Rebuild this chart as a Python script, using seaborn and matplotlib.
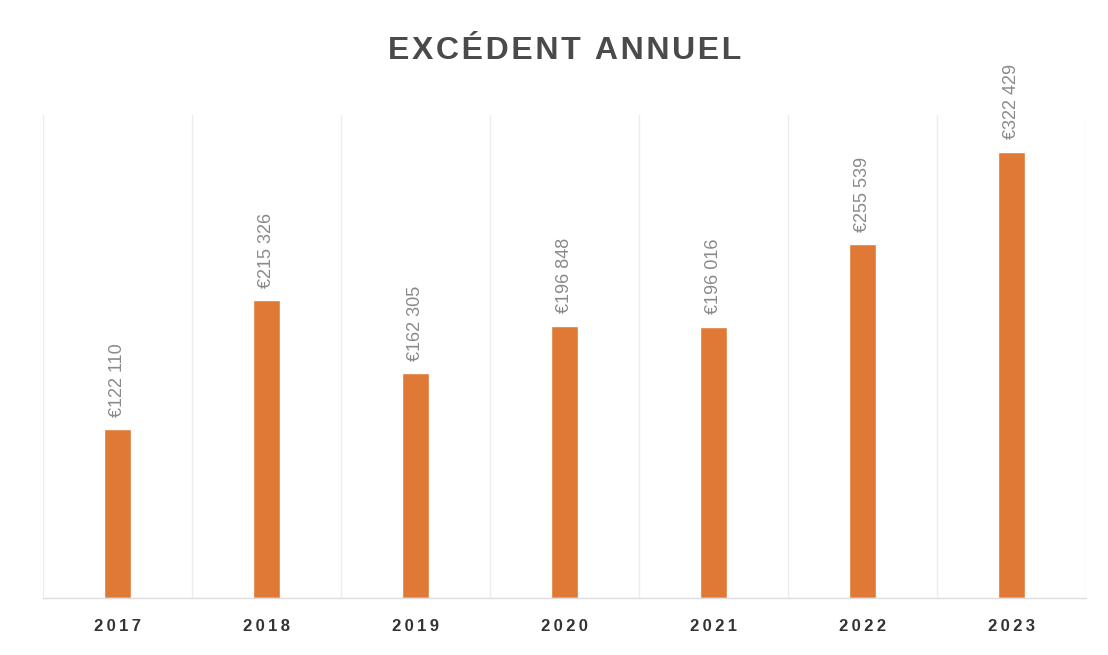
import matplotlib
matplotlib.use("Agg")
import matplotlib.pyplot as plt
from matplotlib.ticker import FixedLocator
import seaborn as sns
import pandas as pd

years = ["2017", "2018", "2019", "2020", "2021", "2022", "2023"]
surplus = [122110, 215326, 162305, 196848, 196016, 255539, 322429]

sns.set_theme(style="white")
plt.rcParams["font.family"] = ["Liberation Sans", "DejaVu Sans"]

df = pd.DataFrame({"year": years, "surplus": surplus})

fig = plt.figure(figsize=(11.08, 6.55), dpi=100)
ax = fig.add_axes([0.0388, 0.087, 0.9413, 0.7374])

sns.barplot(data=df, x="year", y="surplus", color="#DF7935", width=0.18,
            saturation=1, ax=ax)

ax.set_xlim(-0.5, len(years) - 0.5)
ax.set_ylim(0, 349000)

# light vertical separators between the years
ax.xaxis.set_minor_locator(FixedLocator([i - 0.5 for i in range(len(years) + 1)]))
ax.grid(which="minor", axis="x", color="#ececec", linewidth=1)
ax.grid(which="major", visible=False)
ax.set_axisbelow(True)

for s in ["top", "right", "left"]:
    ax.spines[s].set_visible(False)
ax.spines["bottom"].set_color("#dddddd")
ax.spines["bottom"].set_linewidth(1)

ax.set_yticks([])
ax.set_xlabel("")
ax.set_ylabel("")
ax.tick_params(axis="x", which="both", length=0, pad=15)
ax.set_xticks(range(len(years)))
ax.set_xticklabels(["\u2009".join(y) for y in years], fontsize=12,
                   fontweight="bold", color="#333333")

def fmt(v):
    return "€" + f"{v:,}".replace(",", " ")

for i, v in enumerate(surplus):
    ax.annotate(fmt(v), (i, v), xytext=(0, 9), textcoords="offset points",
                rotation=90, ha="center", va="bottom", fontsize=13,
                color="#8a8a8a",
                family=["Liberation Sans Narrow", "Liberation Sans", "DejaVu Sans"])

title = "EXCÉDENT ANNUEL"
fig.text(0.51, 0.922, "\u200a".join(title),
         ha="center", va="center", fontsize=23, fontweight="bold", color="#4a4a4a")

fig.savefig("out.png", dpi=100, facecolor="white")
